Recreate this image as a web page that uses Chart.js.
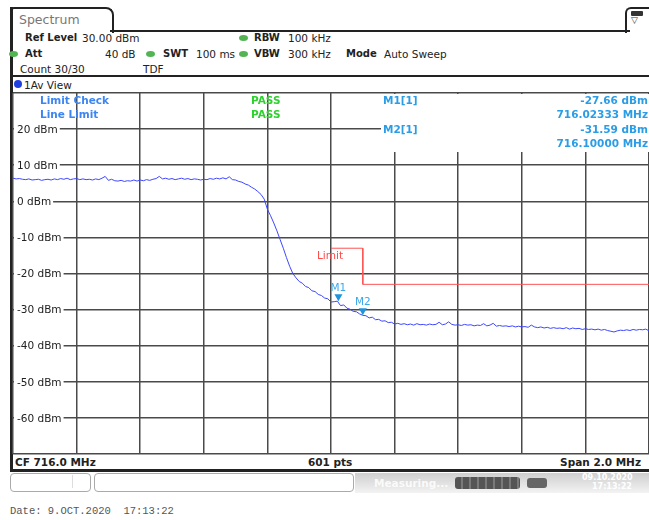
<!DOCTYPE html>
<html>
<head>
<meta charset="utf-8">
<script src="https://cdn.jsdelivr.net/npm/chart.js@4.4.1/dist/chart.umd.min.js"></script>
<style>
body{margin:0;background:#fff;width:649px;height:520px;overflow:hidden;position:relative;font-family:"DejaVu Sans",sans-serif;font-size:10.5px;color:#222}
.a{position:absolute;white-space:nowrap;line-height:12px}
.b{font-weight:bold}
.h{font-size:10px}
.dot{position:absolute;width:9px;height:6px;border-radius:50%;background:#52b452}
.ln{position:absolute;background:#222}
#c{position:absolute;left:0;top:0}
</style>
</head>
<body>
<!-- instrument frame -->
<div class="a" style="left:10px;top:7px;width:100px;height:24px;border:2px solid #222;border-bottom:none;border-radius:4px 8px 0 0"></div>
<div class="a" style="left:19px;top:13px;font-size:12.5px;line-height:14px;color:#777">Spectrum</div>
<div class="ln" style="left:110px;top:30px;width:520px;height:2px"></div>
<div class="a" style="left:625px;top:7px;width:24px;height:24px;border:2px solid #222;border-right:none;border-bottom:none;border-radius:6px 0 0 0"></div>
<div class="a" style="left:631px;top:11px;width:12px;height:5px;background:#333;border-radius:1px"></div>
<div class="a" style="left:631px;top:14px;font-size:9px;color:#333">▽</div>
<div class="ln" style="left:10px;top:7px;width:3px;height:465px"></div>

<div class="a b h" style="left:25px;top:32px">Ref Level</div>
<div class="a" style="left:82px;top:32px">30.00 dBm</div>
<div class="dot" style="left:239px;top:35px"></div>
<div class="a b h" style="left:254px;top:32px">RBW</div>
<div class="a" style="left:288px;top:32px">100 kHz</div>

<div class="dot" style="left:9px;top:51px"></div>
<div class="a b h" style="left:25px;top:48px">Att</div>
<div class="a" style="left:105px;top:48px">40 dB</div>
<div class="dot" style="left:146px;top:51px"></div>
<div class="a b h" style="left:163px;top:48px">SWT</div>
<div class="a" style="left:196px;top:48px">100 ms</div>
<div class="dot" style="left:239px;top:51px"></div>
<div class="a b h" style="left:254px;top:48px">VBW</div>
<div class="a" style="left:288px;top:48px">300 kHz</div>
<div class="a b h" style="left:346px;top:48px">Mode</div>
<div class="a" style="left:384px;top:48px">Auto Sweep</div>

<div class="a" style="left:20px;top:63px">Count 30/30</div>
<div class="a" style="left:143px;top:63px">TDF</div>

<div class="ln" style="left:12px;top:75px;width:637px;height:2px"></div>
<div class="a" style="left:14px;top:80px;width:8px;height:8px;border-radius:50%;background:#1f3fe0"></div>
<div class="a" style="left:24px;top:79px">1Av View</div>

<div class="a b" style="left:15px;top:456px">CF 716.0 MHz</div>
<div class="a b" style="left:308px;top:456px">601 pts</div>
<div class="a b" style="right:8px;top:456px">Span 2.0 MHz</div>
<div class="ln" style="left:10px;top:469px;width:639px;height:3px"></div>

<!-- status bar -->
<div class="a" style="left:10px;top:473px;width:79px;height:17px;border:1px solid #aaa;border-radius:4px"></div>
<div class="a" style="left:72px;top:475px;width:1px;height:13px;background:#ddd"></div>
<div class="a" style="left:94px;top:473px;width:258px;height:17px;border:1px solid #aaa;border-radius:4px"></div>
<div class="a" style="left:355px;top:473px;width:294px;height:20px;background:linear-gradient(#cfcfcf,#f3f3f3)"></div>
<div class="a b" style="left:374px;top:477px;color:rgba(255,255,255,0.85)">Measuring...</div>
<div class="a" style="left:455px;top:477px;width:65px;height:12px;border-radius:3px;background:repeating-linear-gradient(90deg,#555 0 6px,#7a7a7a 6px 8px)"></div>
<div class="a" style="left:527px;top:478px;width:20px;height:10px;border-radius:3px;background:#666"></div>
<div class="a b" style="left:582px;top:473px;font-size:8px;line-height:10px;color:#fff">09.10.2020</div>
<div class="a b" style="left:592px;top:482px;font-size:8px;line-height:10px;color:#fff">17:13:22</div>

<div class="a" style="left:10px;top:505px;font-family:'Liberation Mono',monospace;font-size:10.5px;color:#555">Date: 9.OCT.2020&nbsp;&nbsp;17:13:22</div>

<canvas id="c" width="649" height="520"></canvas>
<script>
// sweep setup
const startMHz = 715.0;
const stopMHz = 717.0;
const stepMHz = 0.01;
const yTicks = [20, 10, 0, -10, -20, -30, -40, -50, -60];

// trace 1 (average), dBm, every 10 kHz
const traceDbm = [
  6.4, 6.2, 6.3, 6.1, 6.0, 6.2, 5.9, 6.0, 6.1, 5.8,
  6.0, 6.1, 5.9, 6.2, 6.0, 6.3, 6.1, 6.4, 6.0, 6.2,
  6.3, 6.0, 6.2, 6.0, 6.1, 5.9, 6.2, 6.0, 6.4, 6.9,
  5.8, 6.1, 5.7, 5.6, 5.8, 5.5, 5.7, 5.6, 5.9, 5.6,
  5.9, 5.7, 6.0, 5.8, 6.1, 6.3, 6.9, 6.2, 6.4, 6.1,
  6.3, 6.0, 6.2, 6.4, 6.1, 6.3, 6.0, 6.2, 6.1, 5.9,
  6.1, 6.0, 6.3, 6.1, 6.4, 6.2, 6.5, 6.2, 6.8, 6.0,
  5.9, 5.5, 5.3, 4.8, 4.5, 3.9, 3.4, 2.7, 1.9, 0.6,
  -2.2, -4.0, -6.0, -8.2, -10.6, -13.0, -15.6, -18.0, -20.0, -21.2,
  -22.2, -22.7, -23.6, -23.9, -24.8, -25.0, -25.8, -26.1, -26.8, -27.0,
  -27.9, -27.8, -27.66, -28.9, -28.7, -29.6, -29.9, -30.5, -30.6, -31.2,
  -31.59, -31.7, -32.3, -32.1, -32.8, -32.7, -33.2, -33.1, -33.6, -33.5,
  -34.0, -33.8, -34.1, -33.9, -34.2, -34.0, -34.3, -33.9, -34.2, -34.1,
  -34.3, -34.0, -34.2, -34.1, -33.5, -34.2, -34.0, -33.4, -34.1, -34.3,
  -34.2, -34.4, -34.1, -34.3, -34.2, -34.5, -34.3, -34.4, -33.9, -34.5,
  -34.3, -33.8, -34.6, -34.4, -34.6, -34.5, -34.7, -34.5, -34.8, -34.6,
  -34.8, -34.7, -34.9, -34.3, -34.8, -35.0, -34.8, -35.1, -34.9, -35.2,
  -35.0, -35.2, -35.1, -35.3, -35.0, -35.4, -35.1, -35.3, -35.2, -35.5,
  -35.3, -35.5, -35.4, -35.6, -35.4, -35.7, -35.5, -35.8, -36.0, -36.2,
  -35.9, -35.7, -35.8, -35.6, -35.8, -35.5, -35.7, -35.5, -35.6, -35.4,
  -35.9
];

// limit line
const limitMHz = [716.0, 716.1, 716.1, 717.0];
const limitDbm = [-13, -13, -23, -23];

// markers
const markerNames = ['M1', 'M2'];
const markerMHz = [716.02333, 716.10000];
const markerDbm = [-27.66, -31.59];

const FONT = '"DejaVu Sans"';

const overlay = {
  id: 'overlay',
  beforeDatasetsDraw(chart) {
    const { ctx, chartArea: a, scales: { y } } = chart;
    ctx.save();
    ctx.fillStyle = '#fff';
    ctx.font = '10.5px ' + FONT;
    yTicks.forEach(v => {
      const w = ctx.measureText(v + ' dBm').width;
      const py = y.getPixelForValue(v);
      ctx.fillRect(a.left + 1, py - 6, w + 5, 12);
    });
    // marker info panel
    ctx.fillRect(381, a.top + 1, a.right - 381, 58);
    ctx.restore();
  },
  afterDraw(chart) {
    const { ctx, chartArea: a, scales: { x, y } } = chart;
    ctx.save();
    ctx.textBaseline = 'middle';

    ctx.fillStyle = '#222';
    ctx.font = '10.5px ' + FONT;
    yTicks.forEach(v => ctx.fillText(v + ' dBm', a.left + 4, y.getPixelForValue(v) + 1));

    ctx.font = 'bold 10.5px ' + FONT;
    ctx.fillStyle = '#3c86f4';
    ctx.fillText('Limit Check', 40, a.top + 8);
    ctx.fillText('Line Limit', 40, a.top + 22);
    ctx.fillStyle = '#2fd12f';
    ctx.fillText('PASS', 251, a.top + 8);
    ctx.fillText('PASS', 251, a.top + 22);

    // marker table
    ctx.fillStyle = '#2a9de6';
    markerNames.forEach((m, i) => {
      const ty = a.top + 8 + i * 29;
      ctx.textAlign = 'left';
      ctx.fillText(m + '[1]', 383, ty);
      ctx.textAlign = 'right';
      ctx.fillText(markerDbm[i].toFixed(2) + ' dBm', a.right - 1, ty);
      ctx.fillText(markerMHz[i].toFixed(5) + ' MHz', a.right - 1, ty + 14);
    });

    // marker symbols on the trace
    ctx.textAlign = 'center';
    ctx.font = '10.5px ' + FONT;
    markerNames.forEach((m, i) => {
      const px = x.getPixelForValue(markerMHz[i]);
      const py = y.getPixelForValue(markerDbm[i]);
      ctx.fillStyle = '#1e94dc';
      ctx.beginPath();
      ctx.moveTo(px, py);
      ctx.lineTo(px - 4, py - 7);
      ctx.lineTo(px + 4, py - 7);
      ctx.closePath();
      ctx.fill();
      ctx.fillStyle = '#3aa8ea';
      ctx.fillText(m, px, py - 13);
    });

    // limit label
    ctx.fillStyle = '#ff4a4a';
    ctx.fillText('Limit', x.getPixelForValue(limitMHz[0]) - 1, y.getPixelForValue(limitDbm[0]) + 8);
    ctx.restore();
  }
};

const gridOpts = { color: '#4a4a4a', lineWidth: 1.5, drawTicks: false };

new Chart(document.getElementById('c').getContext('2d'), {
  type: 'line',
  data: {
    datasets: [
      {
        label: 'Trace 1',
        data: traceDbm.map((v, i) => ({ x: startMHz + i * stepMHz, y: v })),
        borderColor: '#3d47ff',
        borderWidth: 1,
        pointRadius: 0,
        tension: 0
      },
      {
        label: 'Limit',
        data: limitMHz.map((f, i) => ({ x: f, y: limitDbm[i] })),
        borderColor: '#ff5252',
        borderWidth: 1,
        pointRadius: 0,
        tension: 0
      }
    ]
  },
  options: {
    responsive: false,
    animation: false,
    layout: { padding: { left: 13, top: 93, right: 0, bottom: 66 } },
    plugins: { legend: { display: false }, tooltip: { enabled: false } },
    scales: {
      x: {
        type: 'linear', min: startMHz, max: stopMHz,
        ticks: { display: false, stepSize: 0.2 },
        grid: gridOpts,
        border: { display: false }
      },
      y: {
        min: -70, max: 30,
        ticks: { display: false, stepSize: 10 },
        grid: gridOpts,
        border: { display: false }
      }
    }
  },
  plugins: [overlay]
});
</script>
</body>
</html>
